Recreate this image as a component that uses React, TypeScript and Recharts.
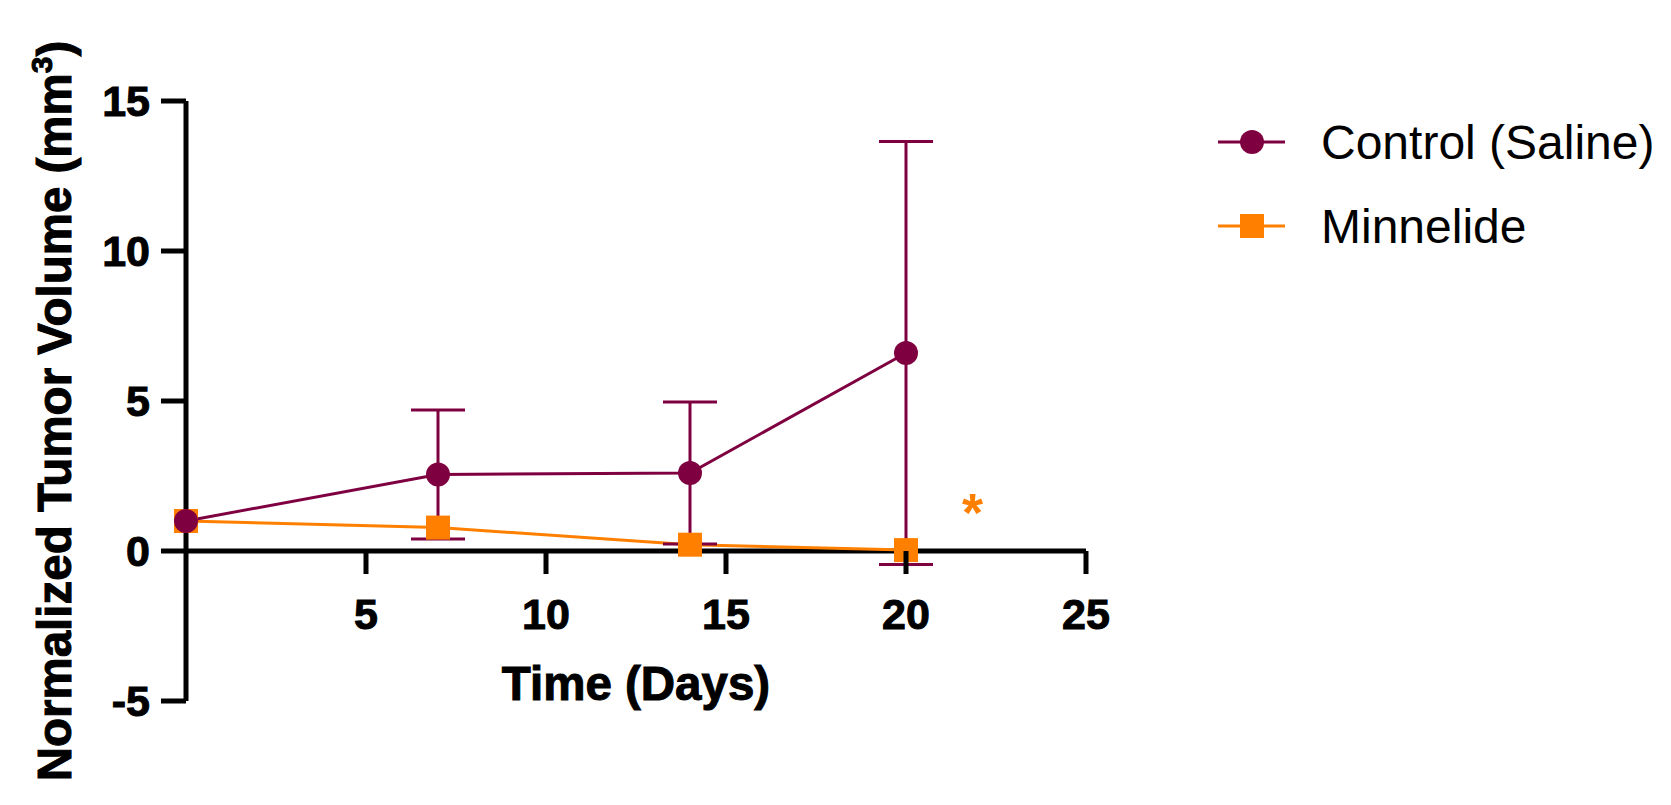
import React from 'react';
import {
  ComposedChart,
  Line,
  XAxis,
  YAxis,
  ErrorBar,
  ReferenceLine,
  ReferenceDot,
  Legend,
} from 'recharts';

// values
const days = [0, 7, 14, 20];
const controlMean = [1.0, 2.55, 2.6, 6.6];
const controlSd = [0, 2.15, 2.37, 7.05];
const minnelideMean = [1.0, 0.78, 0.21, 0.03];
const xTicks = [5, 10, 15, 20, 25];
const yTicks = [-5, 0, 5, 10, 15];
const seriesNames = ['Control (Saline)', 'Minnelide'];
const starMark = { day: 21.85, value: 1.53, text: '*' };

const data = days.map((d, i) => ({
  day: d,
  control: controlMean[i],
  controlErr: controlSd[i],
  minnelide: minnelideMean[i],
}));

const W = 1671;
const H = 805;
const MARGIN = { top: 101, right: 585, bottom: 103, left: 0 };
const X_AXIS_H = 1;
const Y_AXIS_W = 186;
const PLOT_H = H - MARGIN.top - MARGIN.bottom - X_AXIS_H;
const Y_MIN = -5;
const Y_MAX = 15;
// distance from the plot bottom up to the y=0 line
const ZERO_UP = ((0 - Y_MIN) / (Y_MAX - Y_MIN)) * PLOT_H;

const FONT = '"Liberation Sans", Arial, Helvetica, sans-serif';
const MAROON = '#7F0040';
const ORANGE = '#FF8000';
const boldText = { fontFamily: FONT, fontWeight: 'bold' as const, fill: '#000', stroke: '#000', strokeWidth: 1 };

const XTick = (props: any) => {
  const { x, y, payload } = props;
  const y0 = y - ZERO_UP;
  return (
    <g>
      <line x1={x} x2={x} y1={y0} y2={y0 + 23} stroke="#000" strokeWidth={5} />
      <text x={x} y={y0 + 78} textAnchor="middle" fontSize={43} {...boldText}>
        {payload.value}
      </text>
    </g>
  );
};

const YTick = (props: any) => {
  const { x, y, payload } = props;
  return (
    <text x={x} y={y + 15} textAnchor="end" fontSize={43} {...boldText}>
      {payload.value}
    </text>
  );
};

const YLabel = () => (
  <text x={71} y={411} transform="rotate(-90, 71, 411)" textAnchor="middle" fontSize={47.5} {...boldText}>
    Normalized Tumor Volume (mm
    <tspan fontSize={30} dy={-19}>3</tspan>
    <tspan dy={19}>)</tspan>
  </text>
);

const XLabel = () => (
  <text
    x={MARGIN.left + Y_AXIS_W + (W - MARGIN.left - MARGIN.right - Y_AXIS_W) / 2}
    y={MARGIN.top + PLOT_H - ZERO_UP + 149}
    textAnchor="middle"
    fontSize={47.5}
    {...boldText}
  >
    Time (Days)
  </text>
);

const SquareDot = (props: any) => {
  const { cx, cy } = props;
  if (cx == null || cy == null) return null;
  return <rect x={cx - 12} y={cy - 12} width={24} height={24} fill={ORANGE} />;
};

const Star = (props: any) => (
  <text x={props.cx} y={props.cy + 26} textAnchor="middle" fontFamily={FONT} fontWeight="bold" fontSize={54} fill={ORANGE}>
    {starMark.text}
  </text>
);

const LegendBox = () => (
  <svg width={460} height={150}>
    <line x1={8} x2={75} y1={32} y2={32} stroke={MAROON} strokeWidth={3} />
    <circle cx={42} cy={32} r={12} fill={MAROON} />
    <text x={111} y={49} fontFamily={FONT} fontSize={48} fill="#000">
      {seriesNames[0]}
    </text>
    <line x1={8} x2={75} y1={116} y2={116} stroke={ORANGE} strokeWidth={3} />
    <rect x={30} y={104} width={24} height={24} fill={ORANGE} />
    <text x={111} y={133} fontFamily={FONT} fontSize={48} fill="#000">
      {seriesNames[1]}
    </text>
  </svg>
);

export default function App() {
  return (
    <div style={{ position: 'absolute', left: 0, top: 0, width: W, height: H, background: '#fff' }}>
      <ComposedChart width={W} height={H} data={data} margin={MARGIN}>
        <XAxis
          dataKey="day"
          type="number"
          domain={[0, 25]}
          ticks={xTicks}
          height={X_AXIS_H}
          axisLine={false}
          tickLine={false}
          tickSize={0}
          tickMargin={0}
          tick={<XTick />}
          label={<XLabel />}
        />
        <YAxis
          type="number"
          domain={[Y_MIN, Y_MAX]}
          ticks={yTicks}
          width={Y_AXIS_W}
          axisLine={{ stroke: '#000', strokeWidth: 5 }}
          tickLine={{ stroke: '#000', strokeWidth: 5 }}
          tickSize={25}
          tickMargin={11}
          tick={<YTick />}
          label={<YLabel />}
        />
        <ReferenceLine y={0} stroke="#000" strokeWidth={5} ifOverflow="visible" />
        <Line
          dataKey="minnelide"
          stroke={ORANGE}
          strokeWidth={3}
          dot={<SquareDot />}
          activeDot={false}
          isAnimationActive={false}
        />
        <Line
          dataKey="control"
          stroke={MAROON}
          strokeWidth={3}
          dot={{ r: 12, fill: MAROON, stroke: 'none' }}
          activeDot={false}
          isAnimationActive={false}
        >
          <ErrorBar dataKey="controlErr" direction="y" width={27} strokeWidth={3} stroke={MAROON} isAnimationActive={false} />
        </Line>
        <ReferenceDot x={starMark.day} y={starMark.value} r={0} shape={<Star />} ifOverflow="visible" />
        <Legend
          layout="vertical"
          align="center"
          verticalAlign="middle"
          wrapperStyle={{ left: 1210, top: 110, width: 460, height: 150 }}
          content={<LegendBox />}
        />
      </ComposedChart>
    </div>
  );
}
